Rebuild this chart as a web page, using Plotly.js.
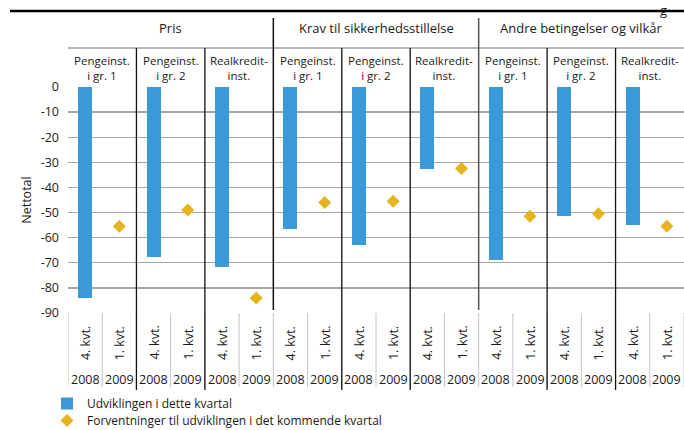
<!DOCTYPE html>
<html>
<head>
<meta charset="utf-8">
<script src="https://cdn.plot.ly/plotly-3.0.1.min.js"></script>
<style>html,body{margin:0;padding:0;background:#fff;}#chart{width:684px;height:430px;}</style>
</head>
<body>
<div id="chart"></div>
<script>
// ---- data ----
const groups = ["Pris", "Krav til sikkerhedsstillelse", "Andre betingelser og vilkår"];
const subgroups = ["Pengeinst.<br>i gr. 1", "Pengeinst.<br>i gr. 2", "Realkredit-<br>inst."];
const quarters = ["4. kvt.", "1. kvt."];
const years = ["2008", "2009"];
const seriesNames = ["Udviklingen i dette kvartal", "Forventninger til udviklingen i det kommende kvartal"];
const current = [-84, -67.5, -71.5, -56.5, -63, -32.5, -69, -51.5, -55];
const expected = [-55.5, -49, -84, -46, -45.5, -32.5, -51.5, -50.5, -55.5];
const yTickVals = [0, -10, -20, -30, -40, -50, -60, -70, -80, -90];
const yTitle = "Nettotal";

// ---- layout helpers ----
const FONT = "'Open Sans', 'Noto Sans', sans-serif";
const nSub = groups.length * subgroups.length;   // 9
const nCat = nSub * quarters.length;              // 18
const plotTop = 87, plotBottom = 313, H = 226, L = 68, W = 616;
const py = p => (plotBottom - p) / H;  // pixel y -> paper y
const px = p => (p - L) / W;           // pixel x -> paper x
const TXT = "#1a1a1a";

const barX = current.map((v, k) => k * 2);
const dotX = expected.map((v, k) => k * 2 + 1);

const traces = [
  {type: "bar", x: barX, y: current, name: seriesNames[0], width: 0.41,
   marker: {color: "#3a9ad9"}, legend: "legend", hoverinfo: "skip"},
  {type: "scatter", mode: "markers", x: dotX, y: expected, name: seriesNames[1],
   marker: {symbol: "diamond", size: 10, color: "#e6b41e"}, legend: "legend2", hoverinfo: "skip"}
];

const shapes = [];
const annotations = [];

// top rule
shapes.push({type: "line", xref: "paper", yref: "paper", x0: px(10), x1: 1.0, y0: py(11), y1: py(11),
  line: {color: "#000", width: 2.5}});
// header horizontal divider
shapes.push({type: "line", xref: "paper", yref: "paper", x0: 0, x1: 1, y0: py(48), y1: py(48),
  line: {color: "#a0a0a0", width: 1.5}});
// category lines in the label area
for (let i = 0; i <= nCat; i++) {
  shapes.push({type: "line", xref: "x", yref: "paper", x0: i - 0.5, x1: i - 0.5, y0: py(387), y1: 0,
    line: {color: "#c4c4c4", width: 1}});
}
// group separators
for (let g = 1; g < groups.length; g++) {
  const x = g * 6 - 0.5;
  shapes.push({type: "line", xref: "x", yref: "paper", x0: x, x1: x, y0: py(310), y1: py(18),
    line: {color: g === 1 ? "#111" : "#555", width: 1.5}});
}
// subgroup separators
for (let g = 0; g < groups.length; g++) {
  for (let s = 1; s < subgroups.length; s++) {
    const x = g * 6 + s * 2 - 0.5;
    shapes.push({type: "line", xref: "x", yref: "paper", x0: x, x1: x, y0: py(390), y1: py(48),
      line: {color: "#111", width: 1.3}});
  }
}

// group headers
groups.forEach((t, g) => annotations.push({xref: "x", yref: "paper", x: g * 6 + 2.5, y: py(28),
  text: t, showarrow: false, font: {family: FONT, size: 13, color: TXT}, yanchor: "middle"}));
// subgroup headers
for (let g = 0; g < groups.length; g++) {
  subgroups.forEach((t, s) => annotations.push({xref: "x", yref: "paper", x: g * 6 + s * 2 + 0.5, y: py(68),
    text: t, showarrow: false, font: {family: FONT, size: 11.5, color: TXT}, yanchor: "middle"}));
}
// quarter + year labels
for (let i = 0; i < nCat; i++) {
  annotations.push({xref: "x", yref: "paper", x: i, y: py(343), text: quarters[i % 2], textangle: -90,
    showarrow: false, font: {family: FONT, size: 12.5, color: TXT}, yanchor: "middle", xanchor: "center"});
  annotations.push({xref: "x", yref: "paper", x: i, y: py(379), text: years[i % 2],
    showarrow: false, font: {family: FONT, size: 12.5, color: TXT}, yanchor: "middle"});
}
// clipped text fragment at top right
annotations.push({xref: "paper", yref: "paper", x: px(668), y: py(0), text: "g", showarrow: false,
  font: {family: FONT, size: 13, color: TXT}, yanchor: "top", borderpad: 0});

const layout = {
  width: 684, height: 430,
  margin: {l: L, r: 0, t: plotTop, b: 430 - plotBottom, autoexpand: false},
  paper_bgcolor: "#fff", plot_bgcolor: "#fff",
  font: {family: FONT, size: 12, color: TXT},
  showlegend: true,
  legend: {x: px(47), y: py(389), xanchor: "left", yanchor: "top", font: {family: FONT, size: 12, color: TXT},
    bgcolor: "rgba(0,0,0,0)", itemwidth: 30},
  legend2: {x: px(47), y: py(406), xanchor: "left", yanchor: "top", font: {family: FONT, size: 12, color: TXT},
    bgcolor: "rgba(0,0,0,0)", itemwidth: 30},
  xaxis: {range: [-0.5, nCat - 0.5], showticklabels: false, showgrid: false, zeroline: false,
    showline: false, ticks: "", fixedrange: true},
  yaxis: {range: [-90, 0], tickvals: yTickVals, ticktext: yTickVals.map(String), showgrid: true,
    gridcolor: "#a6a6a6", gridwidth: 1.3, zeroline: false, showline: false, ticks: "",
    ticklabelstandoff: 8, tickfont: {family: FONT, size: 12.5, color: TXT},
    title: {text: yTitle, font: {family: FONT, size: 12.5, color: TXT}, standoff: 6}, fixedrange: true},
  bargap: 0,
  shapes: shapes,
  annotations: annotations
};

Plotly.newPlot("chart", traces, layout, {displayModeBar: false, staticPlot: true});
</script>
</body>
</html>
